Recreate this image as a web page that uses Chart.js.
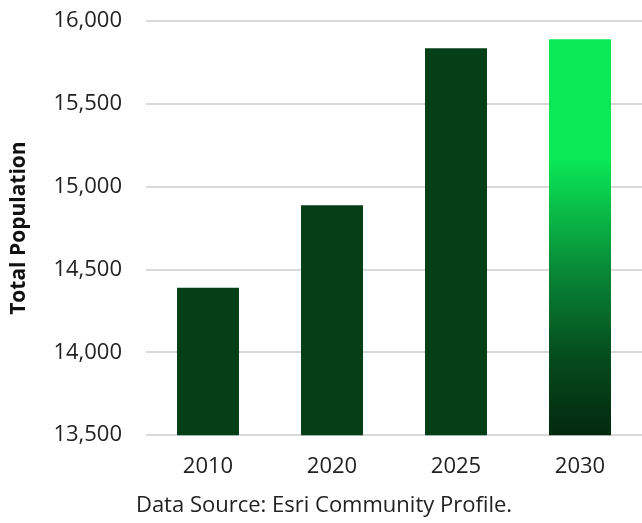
<!DOCTYPE html>
<html>
<head>
<meta charset="utf-8">
<script src="https://cdn.jsdelivr.net/npm/chart.js@4"></script>
<style>
  html, body { margin: 0; padding: 0; background: #fff; }
  #wrap { width: 642px; height: 523px; }
</style>
</head>
<body>
<div id="wrap"><canvas id="popChart"></canvas></div>
<script>
// datos de población total
const years = ['2010', '2020', '2025', '2030'];
const population = [14390, 14888, 15836, 15890];
const yTicks = [13500, 14000, 14500, 15000, 15500, 16000];

const darkGreen = '#053f18';

// degradado vertical para la barra proyectada (2030)
function barColor(context) {
    if (context.dataIndex !== years.length - 1) return darkGreen;
    const chart = context.chart;
    const { ctx, chartArea, scales } = chart;
    if (!chartArea) return darkGreen;
    const top = scales.y.getPixelForValue(population[context.dataIndex]);
    const bottom = scales.y.getPixelForValue(yTicks[0]);
    const g = ctx.createLinearGradient(0, top, 0, bottom);
    g.addColorStop(0, '#0be956');
    g.addColorStop(0.3, '#0be956');
    g.addColorStop(0.58, '#088a37');
    g.addColorStop(0.81, '#054a1c');
    g.addColorStop(1, '#03290f');
    return g;
}

const ctx = document.getElementById('popChart').getContext('2d');
const popChart = new Chart(ctx, {
    type: 'bar',
    data: {
        labels: years,
        datasets: [{
            label: 'Total Population',
            data: population,
            backgroundColor: barColor,
            borderWidth: 0,
            barPercentage: 0.5,
            categoryPercentage: 1
        }]
    },
    options: {
        responsive: true,
        maintainAspectRatio: false,
        animation: false,
        layout: { padding: { top: 21, right: 0, left: 6, bottom: 0 } },
        plugins: {
            legend: { display: false },
            tooltip: { enabled: false },
            title: {
                display: true,
                position: 'bottom',
                text: 'Data Source: Esri Community Profile.',
                color: '#222',
                font: { family: 'Open Sans', size: 22, weight: 'normal' },
                padding: { top: 3, bottom: 4 }
            }
        },
        scales: {
            x: {
                grid: { display: false },
                border: { display: false },
                ticks: {
                    color: '#222',
                    font: { family: 'Open Sans', size: 22 },
                    padding: 10
                }
            },
            y: {
                min: 13500,
                max: 16000,
                afterBuildTicks: scale => {
                    scale.ticks = yTicks.map(v => ({ value: v }));
                },
                afterFit: scale => {
                    scale.width = 140;
                    // sin relleno extra arriba/abajo por las etiquetas
                    scale.paddingTop = 0;
                    scale.paddingBottom = 0;
                },
                grid: { color: '#d9d9d9', lineWidth: 2, drawTicks: false },
                border: { display: false },
                ticks: {
                    color: '#222',
                    font: { family: 'Open Sans', size: 22 },
                    padding: 24,
                    callback: v => v.toLocaleString('en-US')
                },
                title: {
                    display: true,
                    text: 'Total Population',
                    color: '#111',
                    font: { family: 'Open Sans', size: 21, weight: 'bold' },
                    padding: { top: 0, bottom: 0 }
                }
            }
        }
    }
});
</script>
</body>
</html>
